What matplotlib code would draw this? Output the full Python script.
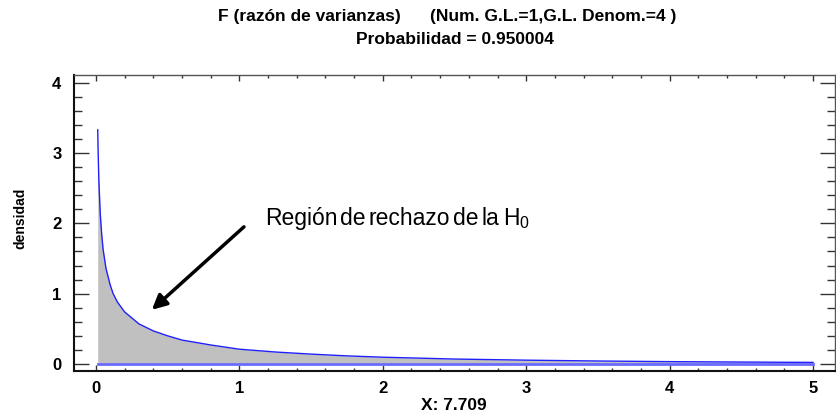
import matplotlib
matplotlib.use("Agg")
import matplotlib.pyplot as plt
from matplotlib.ticker import MultipleLocator
from matplotlib.transforms import offset_copy

# F density (num. d.f. = 1, denom. d.f. = 4)
x_vals = [0.0125, 0.015, 0.02, 0.03, 0.04, 0.05, 0.07, 0.1, 0.12, 0.15, 0.2,
          0.3, 0.4, 0.5, 0.6, 0.8, 1.0, 1.25, 1.5, 1.75, 2.0, 2.5, 3.0,
          3.5, 4.0, 4.5, 5.0]
dens_vals = [3.33, 3.05, 2.63, 2.14, 1.85, 1.63, 1.36, 1.12, 1.00, 0.88, 0.74,
             0.57, 0.47, 0.40, 0.34, 0.27, 0.21, 0.17, 0.14, 0.115, 0.096,
             0.070, 0.054, 0.042, 0.033, 0.027, 0.022]

title_parts = ["F (razón de varianzas)", "(Num. G.L.=1,G.L. Denom.=4 )"]
title_line2 = "Probabilidad = 0.950004"
x_label = "X: 7.709"
y_label = "densidad"
note_words = ["Región", "de", "rechazo", "de", "la", "H$_\\mathregular{0}$"]
x_ticks = [0, 1, 2, 3, 4, 5]
y_ticks = [0, 1, 2, 3, 4]

plt.rcParams['font.family'] = ['Liberation Sans', 'DejaVu Sans']
plt.rcParams['mathtext.fontset'] = 'custom'
plt.rcParams['mathtext.rm'] = 'Liberation Sans'

W, H = 836, 416
fig = plt.figure(figsize=(W / 100, H / 100), dpi=100)
ax = fig.add_axes([0.0885, 0.1082, 0.9103, 0.7115])

ax.fill_between(x_vals, dens_vals, 0, color='#c0c0c0', linewidth=0)
ax.plot(x_vals, dens_vals, color='#2020ff', linewidth=1.0)
ax.plot([x_vals[0], x_vals[-1]], [0, 0], color='#6a6aff', linewidth=2.0)

ax.set_xlim(-0.153, 5.153)
ax.set_ylim(-0.1, 4.11)
ax.set_xticks(x_ticks)
ax.set_yticks(y_ticks)
ax.xaxis.set_minor_locator(MultipleLocator(0.2))
ax.yaxis.set_minor_locator(MultipleLocator(0.2))

ax.tick_params(axis='x', which='both', direction='in', top=True, bottom=True,
               color='#333333', width=1.0)
ax.tick_params(axis='x', which='major', length=4, pad=7, labelsize=12)
ax.tick_params(axis='x', which='minor', length=2.5)
ax.tick_params(axis='y', which='both', direction='in', left=True, right=True,
               color='#333333', width=1.0)
ax.tick_params(axis='y', which='major', length=10.8, pad=9, labelsize=12)
ax.tick_params(axis='y', which='minor', length=6)
for lbl in ax.get_xticklabels() + ax.get_yticklabels():
    lbl.set_fontweight('bold')

for side in ['left', 'bottom']:
    ax.spines[side].set_linewidth(1.5)
    ax.spines[side].set_color('#111111')
for side in ['top', 'right']:
    ax.spines[side].set_linewidth(1.0)
    ax.spines[side].set_color('#555555')

# titles and axis labels
fig.text(218 / W, 1 - 17 / H, title_parts[0], ha='left', va='center',
         fontsize=12.5, fontweight='bold')
fig.text(430 / W, 1 - 17 / H, title_parts[1], ha='left', va='center',
         fontsize=12.5, fontweight='bold')
fig.text(455 / W, 1 - 40 / H, title_line2, ha='center', va='center',
         fontsize=12.5, fontweight='bold')
fig.text(454 / W, 1 - 406 / H, x_label, ha='center', va='center',
         fontsize=12.5, fontweight='bold')
fig.text(20 / W, 1 - 218 / H, y_label, ha='center', va='center',
         rotation=90, fontsize=10, fontweight='bold')

ax.annotate('', xy=(0.39, 0.77), xytext=(1.032, 1.95),
            arrowprops=dict(arrowstyle='-|>', color='black', lw=2.5,
                            mutation_scale=22, shrinkA=0, shrinkB=0))

# the note is set tight, words almost touching
renderer = fig.canvas.get_renderer()
dx = 0.0
for word in note_words:
    t = ax.text(1.178, 1.98, word, ha='left', va='baseline', fontsize=16.5,
                transform=offset_copy(ax.transData, fig=fig, x=dx, y=0,
                                      units='dots'))
    dx += t.get_window_extent(renderer).width + 3

fig.savefig('out.png', dpi=100)
